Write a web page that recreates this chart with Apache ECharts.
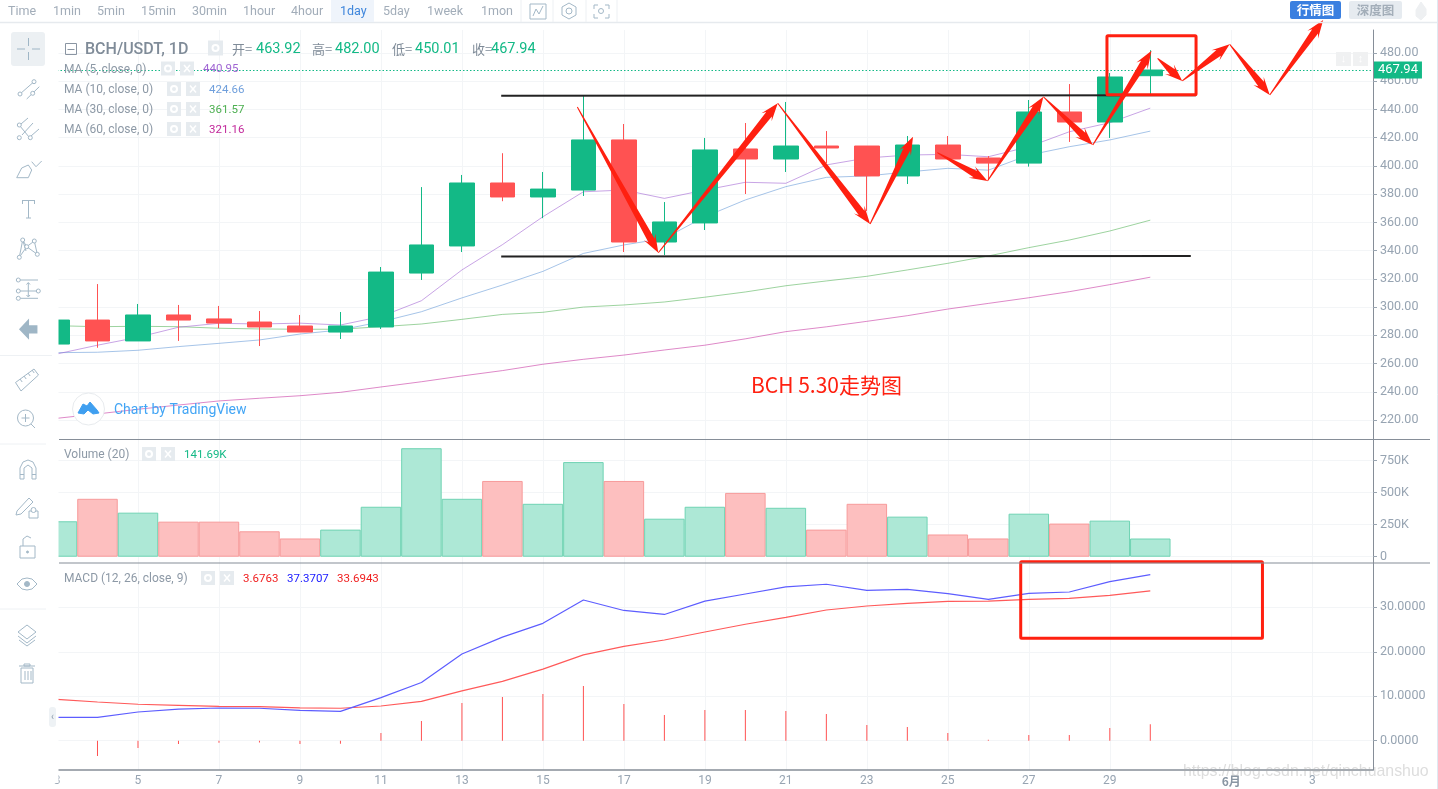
<!DOCTYPE html>
<html><head><meta charset="utf-8">
<style>html,body{margin:0;padding:0;background:#fff}#c{width:1438px;height:789px}</style>
<script src="https://cdn.jsdelivr.net/npm/echarts@6/dist/echarts.min.js"></script>
</head><body><div id="c"></div>
<script>
const days=[3,4,5,6,7,8,9,10,11,12,13,14,15,16,17,18,19,20,21,22,23,24,25,26,27,28,29,30];
const openP=[273.8,290.8,276,294.4,291.6,289.4,286.6,282.3,285.9,324.1,343.3,387.9,378,382.9,418.4,346.1,359.6,412,404.9,414.1,414.1,392.9,414.8,405.6,402,438.2,431.1,463.92];
const closeP=[290.8,276,294.4,290.8,288.7,285.9,282.3,286.6,324.8,344,387.9,378,383.6,418.4,346.1,360.3,411.3,404.9,414.1,412.7,392.9,414.8,404.9,402,438.2,431.1,463,467.94];
const lowP=[272,271.2,276,276,285,272.4,282.3,277.4,284.5,319.2,339,375,363,378.7,339,336.9,354.6,380.1,395.7,402,368,387.2,404.9,390,399.5,417,419.8,450.01];
const highP=[292,316.3,302.2,301.5,300.8,297.2,294.4,296.5,328.4,385,393.6,409,395.7,449.5,429.7,374.4,419.8,430.4,445.3,424.7,414.1,421.2,421.2,407,446.7,458,465.8,482];
const ma5=[266.8,273,278.6,285.7,288.5,288,288.6,287.3,293.3,304.5,326.3,344.2,364,381.7,382.9,377,382.9,388.4,387.7,400.7,405.6,407.7,408.2,406.5,413.6,424.2,430.6,440.95];
const ma10=[267.7,268,269.4,272,274.3,276.7,280.9,283.8,289.6,296.7,306.5,315.6,325.3,338,344,348.7,364,375.9,385.3,391.9,392.9,395.7,398.3,397,407.7,413.6,418.4,424.66];
const ma30=[286.8,286.1,286.4,286.1,285,284.5,284.3,284.3,286.1,288,291.3,294.8,296.3,300,301.5,303.6,307,310.7,315.1,318.5,321.8,326.3,331,336.2,342.1,347.5,353.9,361.57];
const ma60=[221.2,224.3,227.6,230.6,233.5,235.4,237.2,239.6,243.4,247.1,251.2,255,259.5,263,266,269.6,273,277.5,282.6,286,289.9,293.9,298.6,302.6,306.6,310.9,315.9,321.16];
const volumeK=[276,451,343,273,273,198,142,211,389,845,451,590,412,737,590,296,389,497,381,211,412,312,173,142,335,258,281,141.69];
const macdDif=[5.25,5.25,6.45,7.1,7.35,7.3,6.8,6.6,9.7,13.1,19.5,23.3,26.4,31.65,29.3,28.4,31.4,33,34.6,35.2,33.8,34.05,33.1,31.8,33.15,33.45,35.8,37.37];
const macdDea=[9.3,8.7,8.2,7.95,7.7,7.65,7.4,7.3,7.8,8.85,11.2,13.35,16.1,19.3,21.2,22.65,24.45,26.2,27.75,29.4,30.3,30.9,31.35,31.4,31.8,32,32.7,33.69];
const macdHist=[-4,-3.45,-1.65,-0.75,-0.45,-0.4,-0.75,-0.7,1.7,4.4,8.5,9.8,10.5,12.3,8.25,5.8,6.9,6.9,6.7,6,3.5,3.1,1.7,0.2,1.3,1.3,2.85,3.68];
const xTicks=[3,5,7,9,11,13,15,17,19,21,23,25,27,29,32,34];
const priceTicks=[220,240,260,280,300,320,340,360,380,400,420,440,460,480];
const volumeTicks=[0,250,500,750];
const macdTicks=[0,10,20,30];
const lastPrice=467.94;
// hand-drawn overlay, given in data space (day, price)
const arrows=[[15.85,441.7,17.85,338.5],[17.85,338.5,20.8,444.4],[20.8,444.4,23.08,358.9],[23.08,358.9,24.14,420.7],[24.74,409.4,25.98,389.3],[25.98,389.3,27.36,449],[27.36,449,28.58,414.8],[28.58,414.8,30.03,481.6],[30.18,476.2,30.79,460.2],[30.79,460.2,31.96,486.2],[31.96,486.2,32.95,450.2],[32.95,450.2,34.27,503.4]];
const blackLines=[[13.97,449.75,31.13,450],[13.97,335.8,31,336.2]];
const priceBox=[[28.93,492.26,31.13,450.46]];
const macdBox=[[26.8,40.25,32.77,23.06]];

const GREEN='#13b986',RED='#ff5252',GRAY='#97a4b2',FONT='Roboto,"Liberation Sans",sans-serif',CJK='"Noto Sans CJK SC",sans-serif';
const XMIN=3,XMAX=35.5;
const pair=a=>days.map((d,i)=>[d,a[i]]);
const grids=[{left:57,width:1316,top:30,height:409},{left:57,width:1316,top:440,height:123},{left:57,width:1316,top:563,height:207}];
const splitLine={show:true,lineStyle:{color:'#f3f5f7',width:1}};
const xAxes=[0,1,2].map(i=>({type:'value',gridIndex:i,min:XMIN,max:XMAX,
 axisLine:{show:i===2,onZero:false,lineStyle:{color:'#868e98',width:1.5}},axisTick:{show:false,customValues:xTicks},splitLine,
 axisLabel:{show:i===2,customValues:xTicks,margin:5,color:GRAY,fontFamily:FONT,fontSize:12,hideOverlap:false,showMinLabel:true,
  formatter:v=>v===32?'{m|6月}':v===34?'3':String(v),rich:{m:{fontFamily:CJK,fontSize:12,fontWeight:'bold',color:'#8a96a3'}}}}));
const yBase=(i,min,max,ticks,fmt)=>({type:'value',gridIndex:i,position:'right',min,max,scale:true,
 axisLine:{show:true,onZero:false,lineStyle:{color:'#868e98'}},axisTick:{show:true,length:4,customValues:ticks,lineStyle:{color:'#9aa5b1'}},splitLine,
 axisLabel:{customValues:ticks,margin:7,padding:[5,0,0,0],color:GRAY,fontFamily:FONT,fontSize:12.5,formatter:fmt,showMinLabel:true,showMaxLabel:true}});
const yAxes=[yBase(0,206.54,496.29,priceTicks,v=>v.toFixed(2)),
 yBase(1,-49,909,volumeTicks,v=>v===0?'0':v+'K'),
 yBase(2,-6.6,39.98,macdTicks,v=>v.toFixed(4))];
const maLine=(d,c)=>({type:'line',data:pair(d),xAxisIndex:0,yAxisIndex:0,showSymbol:false,symbol:'none',z:3,lineStyle:{color:c,width:1,opacity:.55},silent:true});
function arrowItem(p,api){
 const a=api.coord([api.value(0),api.value(1)]),b=api.coord([api.value(2),api.value(3)]);
 const dx=b[0]-a[0],dy=b[1]-a[1],L=Math.hypot(dx,dy),ux=dx/L,uy=dy/L,nx=-uy,ny=ux;
 const at=(s,w)=>[a[0]+ux*s+nx*w,a[1]+uy*s+ny*w];
 const hl=Math.min(14,L*.4),sh=3.6,bar=6.5;
 return {type:'polygon',shape:{points:[at(0,.5),at(L-hl,sh),at(L-hl-4,bar),at(L,0),at(L-hl-4,-bar),at(L-hl,-sh),at(0,-.5)]},style:{fill:'#ff2010'}};
}
function lineItem(p,api){
 const a=api.coord([api.value(0),api.value(1)]),b=api.coord([api.value(2),api.value(3)]);
 return {type:'line',shape:{x1:a[0],y1:a[1],x2:b[0],y2:b[1]},style:{stroke:'#222',lineWidth:2}};
}
function boxItem(p,api){
 const a=api.coord([api.value(0),api.value(1)]),b=api.coord([api.value(2),api.value(3)]);
 return {type:'rect',shape:{x:a[0],y:a[1],width:b[0]-a[0],height:b[1]-a[1],r:1},style:{fill:null,stroke:'#ff2010',lineWidth:3}};
}
const overlay=(data,fn,x,y,z)=>({type:'custom',data,renderItem:fn,xAxisIndex:x,yAxisIndex:y,z,silent:true,clip:false,encode:{x:[0,2],y:[1,3]}});
const series=[
 maLine(ma60,'#c2289b'),maLine(ma30,'#4caf50'),maLine(ma10,'#5d93d6'),maLine(ma5,'#9b59d0'),
 {type:'candlestick',xAxisIndex:0,yAxisIndex:0,barWidth:25,z:4,silent:true,encode:{x:0,y:[1,2,3,4]},
  data:days.map((d,i)=>[d,openP[i],closeP[i],lowP[i],highP[i]]),
  itemStyle:{color:GREEN,color0:RED,borderColor:GREEN,borderColor0:RED,borderWidth:1},
  markLine:{silent:true,symbol:'none',precision:2,animation:false,lineStyle:{type:[1.5,2],color:GREEN,width:1},
   label:{position:'end',distance:1,formatter:()=>lastPrice.toFixed(2),color:'#fff',backgroundColor:GREEN,fontFamily:FONT,fontSize:13,padding:[3,4,1,4]},
   data:[{yAxis:lastPrice}]}},
 {type:'bar',xAxisIndex:1,yAxisIndex:1,barWidth:40.49,silent:true,
  data:days.map((d,i)=>{const up=closeP[i]>=openP[i];return{value:[d,volumeK[i]],itemStyle:{color:up?'#ade8d6':'#fdbfbf',borderColor:up?'#6fd3b3':'#f79a9a',borderWidth:1}}})},
 {type:'bar',xAxisIndex:2,yAxisIndex:2,barWidth:1,silent:true,data:pair(macdHist),itemStyle:{color:RED}},
 {type:'line',xAxisIndex:2,yAxisIndex:2,data:pair(macdDea),symbol:'none',silent:true,lineStyle:{color:'#ff5a5a',width:1.2}},
 {type:'line',xAxisIndex:2,yAxisIndex:2,data:pair(macdDif),symbol:'none',silent:true,lineStyle:{color:'#5d5dff',width:1.2}},
 overlay(blackLines,lineItem,0,0,19),overlay(arrows,arrowItem,0,0,21),overlay(priceBox,boxItem,0,0,20),overlay(macdBox,boxItem,2,2,20)
];
// chrome: toolbars, legends, watermark
const g=[];
const IC='#a3b8c7';
const Z=30;
const tx=(x,y,text,size,fill,o={})=>g.push({type:'text',z:Z,x,y:y+1,silent:true,style:Object.assign({text,fill,fontSize:size,fontFamily:FONT,textVerticalAlign:'middle',textAlign:'left'},o)});
const ln=(x1,y1,x2,y2,c=IC,w=1)=>g.push({type:'line',z:Z,silent:true,shape:{x1,y1,x2,y2},style:{stroke:c,lineWidth:w}});
const ci=(cx,cy,r,c=IC,w=1,f='#fff')=>g.push({type:'circle',z:Z,silent:true,shape:{cx,cy,r},style:{stroke:c,lineWidth:w,fill:f}});
const rc=(x,y,w,h,o={})=>g.push({type:'rect',z:o.z||Z,silent:true,shape:{x,y,width:w,height:h,r:o.r||0},style:{fill:o.fill||null,stroke:o.stroke||null,lineWidth:o.lw||1}});
const pl=(pts,c=IC,w=1,f=null)=>g.push({type:f?'polygon':'polyline',z:Z,silent:true,shape:{points:pts},style:f?{fill:f,stroke:c,lineWidth:w}:{stroke:c,lineWidth:w,fill:null}});
rc(0,23,58.5,760,{fill:'#fff',z:10});
rc(0,770.5,52,18,{fill:'#fff',z:10});
ln(0,22.5,1438,22.5,'#e6eaee',1.5);
rc(331,0,43,22,{fill:'#eff4fb'});
[['Time',8],['1min',53],['5min',97],['15min',141],['30min',192],['1hour',243],['4hour',291],['1day',340],['5day',383],['1week',427],['1mon',481]].forEach(([s,x])=>tx(x,10.5,s,12.5,s==='1day'?'#3f86dc':'#a2adb9'));
[521,553,586,617].forEach(x=>ln(x,0,x,22,'#edf0f3'));
rc(530,4,16,15,{stroke:IC});pl([[533,16],[536,9],[539,14],[543,6]]);
pl([[569,3],[576,7],[576,15],[569,19],[562,15],[562,7],[569,3]]);ci(569,11,3);
rc(594,5,15,13,{stroke:IC});rc(592,9,19,5,{fill:'#fff'});rc(598,3,7,18,{fill:'#fff'});ci(601,11,2.5);
rc(1290,1,51,18,{fill:'#3a7fe0',r:2});tx(1315.5,9.5,'行情图',12.5,'#fff',{textAlign:'center',fontFamily:CJK,fontWeight:'bold'});
rc(1349,1,53,18,{fill:'#e6ebf0',r:2});tx(1375.5,9.5,'深度图',12.5,'#a3aeb9',{textAlign:'center',fontFamily:CJK,fontWeight:'bold'});
pl([[1421,2],[1426,9],[1426,15],[1421,20],[1416,16],[1416,10],[1421,2]],'#eef0f2',1,'#eef0f2');
// left toolbar
rc(11,32,34,34,{fill:'#ecf0f3',r:3});
ln(17,49,25,49,'#9fb6c6');ln(32,49,40,49,'#9fb6c6');ln(28.5,38,28.5,46,'#9fb6c6');ln(28.5,52,28.5,60,'#9fb6c6');
ln(20,94,34,81.7);ln(26.7,99,39.3,86.7);ci(20,94,2);ci(34,81.7,2);ci(32.7,93.3,2);
ln(21,124,28,118);ln(22,135,33,123);ln(31,136,39,129);ln(20,126,29,137);ci(19.3,125,2);ci(19.3,137.7,2);ci(30.3,137.7,2);
pl([[16.7,177.7],[21.7,168],[28.3,165],[31.7,170],[28.3,177.7],[16.7,177.7]]);pl([[31.7,161.7],[36,166.7],[41.7,161]]);
ln(22.3,200.5,35,200.5);ln(22.5,200,22.5,204);ln(34.5,200,34.5,204);ln(28.5,200,28.5,218);ln(26,218,31,218);
[[19.3,257.3,22.7,240],[22.7,240,26.7,246.7],[22.7,240,26,251],[26.7,246.7,34.3,241],[34.3,241,37.3,254.3],[26.7,246.7,37.3,254.3],[19.3,257.3,26.7,246.7]].forEach(a=>ln(...a));
[[19.3,257.3],[22.7,240],[34.3,241],[37.3,254.3],[26.7,246.7]].forEach(([x,y])=>ci(x,y,2));
ln(18,280,38,280);ln(18,291,38,291);ln(18,298.3,38,298.3);ln(28.3,283,28.3,296);pl([[26.5,284.5],[28.3,282.5],[30,284.5]]);pl([[26.5,295],[28.3,297],[30,295]]);
[[18.3,280],[18.3,291],[38.3,291],[18.3,298.3]].forEach(([x,y])=>ci(x,y,2));
pl([[20,329.3],[28.3,320.5],[28.3,326],[36.7,326],[36.7,332.7],[28.3,332.7],[28.3,338],[20,329.3]],'#9fb6c6',1.5,'#9fb6c6');
ln(0,355.5,52,355.5,'#eef1f4');
pl([[15.5,382.5],[34,369],[38.5,375],[21,391],[15.5,382.5]]);[[20,379],[24,376],[28,373],[32,370]].forEach(([x,y])=>ln(x,y,x+2.2,y+3));
ci(25.5,418,8);ln(31,424,35,428);ln(21.5,418,29.5,418);ln(25.5,414,25.5,422);
ln(0,444,46,444,'#eef1f4');
pl([[20,479],[20,468],[23,462],[28,460],[33,462],[36,468],[36,479],[32,479],[32,468],[28,465],[24,468],[24,479],[20,479]]);ln(20,474.5,24,474.5);ln(32,474.5,36,474.5);
pl([[17,511],[29,498],[33,502],[21,514],[16,515],[17,511]]);rc(29,511,9,7,{stroke:IC});ci(33.5,510,2.5);
rc(20,546,15,12,{stroke:IC});pl([[23,546],[23,539],[27,536],[31,538]]);ci(27.5,552,1,IC,1,IC);
pl([[17,584],[22,579],[27,578],[32,579],[37,584],[32,589],[27,590],[22,589],[17,584]]);ci(27,584,2.5,IC,1,IC);
ln(0,609,46,609,'#eef1f4');
pl([[27,625],[36,632],[27,639],[18,632],[27,625]]);pl([[18,636],[27,643],[36,636]]);pl([[19,640],[27,646],[35,640]]);
ln(19,666,35,666);rc(24,664,6,2,{stroke:IC});rc(21,668,12,15,{stroke:IC});[25,28,31].forEach(x=>ln(x,671,x,680));
rc(49,707,7,20,{fill:'#eef2f5',r:3});tx(52.5,716,'‹',10,'#8b9cac',{textAlign:'center'});
// legend
rc(65.5,43.5,11,11,{stroke:'#8a95a2'});ln(67.5,49.5,74.5,49.5,'#8a95a2');
tx(85,48.5,'BCH/USDT, 1D',16,'#7f8b98',{fontWeight:'500'});
const gearBox=(x,y,s=15)=>{rc(x,y-s/2,s,s,{fill:'#e6ebef'});ci(x+s/2,y,3,'#fff',2,null);};
const closeBox=(x,y,s=15)=>{rc(x,y-s/2,s,s,{fill:'#e6ebef'});ln(x+4,y-3.5,x+s-4,y+3.5,'#fff',1.5);ln(x+s-4,y-3.5,x+4,y+3.5,'#fff',1.5);};
gearBox(208,48);
[['开=',232,'463.92',256],['高=',312,'482.00',335],['低=',392,'450.01',415],['收=',472,'467.94',491]].forEach(([a,x,b,x2])=>{tx(x,48,a,13,'#7f8b98',{fontFamily:CJK});tx(x2,48,b,14.5,GREEN);});
[['MA (5, close, 0)',68.5,161,180,'440.95',203,'#a066d3'],['MA (10, close, 0)',89,167,186,'424.66',209,'#6f9fdc'],['MA (30, close, 0)',109,167,186,'361.57',209,'#4caf50'],['MA (60, close, 0)',129,167,186,'321.16',209,'#c2289b']].forEach(([s,y,a,b,v,x,c])=>{tx(64,y,s,12,'#8d99a6');gearBox(a,y,14);closeBox(b,y,14);tx(x,y,v,11.5,c);});
tx(64,454,'Volume (20)',12,'#8d99a6');gearBox(142,454,14);closeBox(161,454,14);tx(184,454,'141.69K',11.5,GREEN);
tx(64,578,'MACD (12, 26, close, 9)',12,'#8d99a6');gearBox(201,578,14);closeBox(220,578,14);tx(243,578,'3.6763',11.5,'#f02020');tx(287,578,'37.3707',11.5,'#2020ff');tx(337,578,'33.6943',11.5,'#f02020');
// watermark logo
ci(88.5,409,16,'#e8ebee',1,'#fff');
pl([[78,413],[83,404],[87,406],[90,402],[97,410],[99,413],[93,414],[88,410],[84,414],[78,413]],'#3f9ff0',1,'#3f9ff0');
tx(114,409.5,'Chart by TradingView',14,'#42a5f5');
tx(751,384.5,'BCH 5.30走势图',21,'#ff2010',{fontFamily:CJK});
// price-scale buttons
rc(1336,52,15,14,{fill:'#f0f1f2'});rc(1353,52,15,14,{fill:'#f0f1f2'});
tx(1343.5,58,'↓',11,'#fff',{textAlign:'center',fontWeight:'bold'});tx(1360.5,58,'↕',11,'#fff',{textAlign:'center',fontWeight:'bold'});
// pane separators
ln(59,439.5,1430,439.5,'#868e98',1.2);ln(59,563,1430,563,'#868e98',1.2);
ln(1437.5,0,1437.5,789,'#dfe9f2',1);
tx(1183,771,'https://blog.csdn.net/qinchuanshuo',15.9,'rgba(170,170,170,.4)',{fontFamily:'"Liberation Sans",sans-serif'});

const chart=echarts.init(document.getElementById('c'),null,{renderer:'canvas'});
chart.setOption({animation:false,backgroundColor:'#fff',grid:grids,xAxis:xAxes,yAxis:yAxes,series,graphic:{elements:g}});
</script></body></html>
